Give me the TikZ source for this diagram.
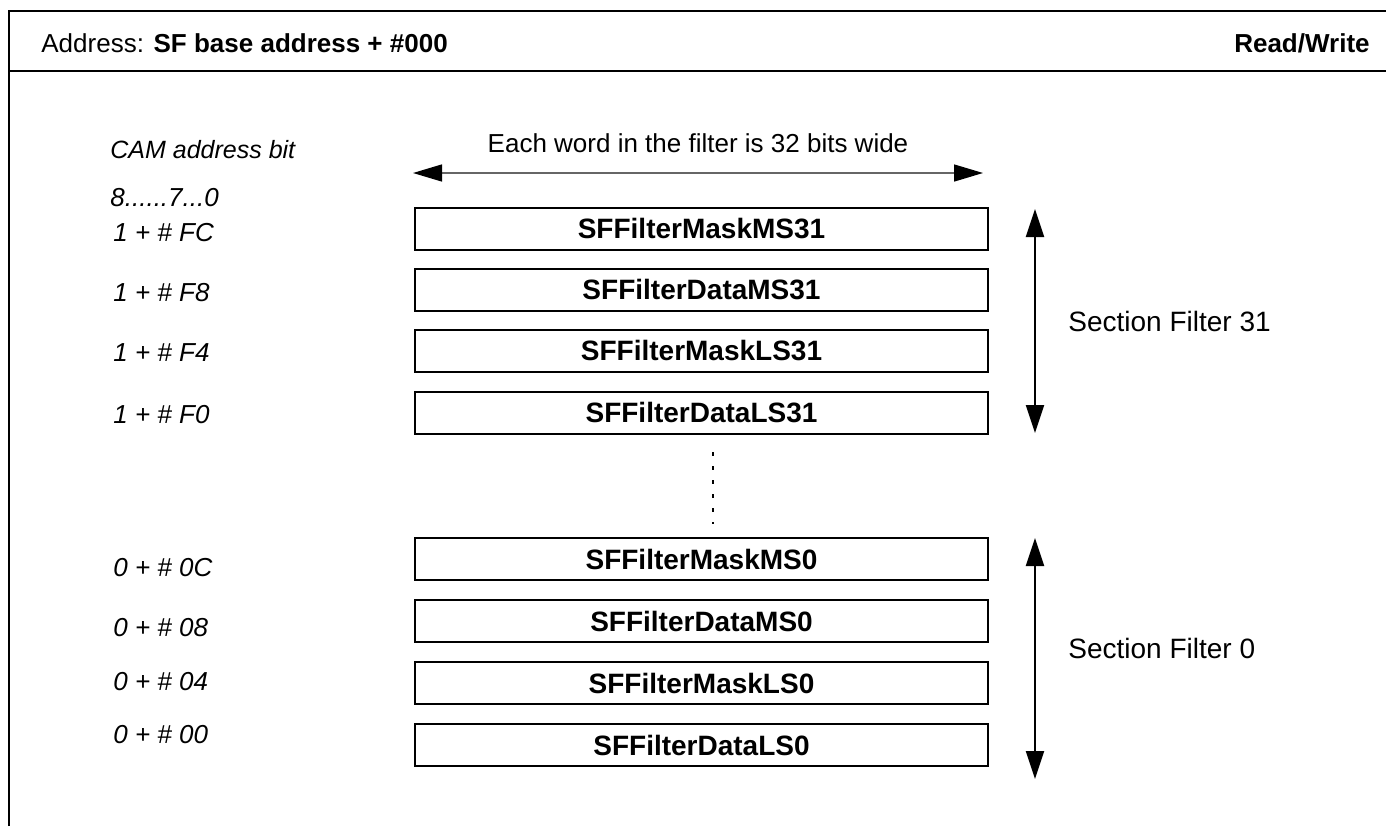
\documentclass[tikz,border=0pt]{standalone}
\usepackage{fontspec}
\setmainfont{Liberation Sans}
\usetikzlibrary{arrows.meta}

\begin{document}
\begin{tikzpicture}[x=0.5pt,y=-0.5pt,
  regbox/.style={draw,line width=0.8pt,minimum width=286.5pt,minimum height=21pt,inner sep=0pt,font=\fontsize{14}{16}\selectfont\bfseries},
  addr/.style={anchor=west,inner sep=0pt,font=\fontsize{13}{15}\selectfont\itshape},
  plain/.style={inner sep=0pt,font=\fontsize{13}{15}\selectfont},
  span/.style={line width=1pt,{Triangle[length=14pt,width=9pt]}-{Triangle[length=14pt,width=9pt]}},
  wide/.style={line width=0.7pt,black!60,{Triangle[length=14.5pt,width=8.5pt,color=black]}-{Triangle[length=14.5pt,width=8.5pt,color=black]}}]
\useasboundingbox (0,0) rectangle (1386,826);
% frame and header
\draw[line width=1pt] (9,826) |- (1386,11);
\draw[line width=0.8pt] (9,71) -- (1386,71);
\node[plain,anchor=west] (hdr) at (41,43) {Address: \textbf{SF base address + \#000}};
\node[plain,anchor=east] (rw) at (1370,43) {\textbf{Read/Write}};
% column heads
\node[addr,font=\fontsize{12.5}{15}\selectfont\itshape] (cam) at (110,150) {CAM address bit};
\node[addr] (bits) at (110,198) {8......7...0};
\node[plain] (wtitle) at (698,143) {Each word in the filter is 32 bits wide};
\coordinate (wl) at (413,173);
\coordinate (wr) at (983,173);
\draw[wide] (wl) -- (wr);
% filter 31
\foreach \nm/\yc/\addr/\ya [count=\i] in {
SFFilterMaskMS31/229/FC/233,
SFFilterDataMS31/290/F8/293,
SFFilterMaskLS31/351/F4/353,
SFFilterDataLS31/413/F0/415}{
  \node[regbox] (hi\i) at (701.5,\yc) {\nm};
  \node[addr] (hia\i) at (113,\ya) {1 + \# \addr};
}
% filter 0
\foreach \nm/\yc/\addr/\ya [count=\i] in {
SFFilterMaskMS0/559/0C/568,
SFFilterDataMS0/621/08/628,
SFFilterMaskLS0/683/04/682,
SFFilterDataLS0/745/00/735}{
  \node[regbox] (lo\i) at (701.5,\yc) {\nm};
  \node[addr] (loa\i) at (113,\ya) {0 + \# \addr};
}
% gap between the groups
\coordinate (d1) at (713,452);
\coordinate (d2) at (713,524);
\draw[line width=0.6pt,dash pattern=on 2pt off 5pt] (d1) -- (d2);
% section spans
\coordinate (s31t) at (1035,209);
\coordinate (s31b) at (1035,433);
\coordinate (s0t) at (1035,538);
\coordinate (s0b) at (1035,779);
\draw[span] (s31t) -- (s31b);
\draw[span] (s0t) -- (s0b);
\node[plain,anchor=west,font=\fontsize{14}{16}\selectfont] (sec31) at (1068,321) {Section Filter 31};
\node[plain,anchor=west,font=\fontsize{14}{16}\selectfont] (sec0) at (1068,648) {Section Filter 0};
\end{tikzpicture}
\end{document}
